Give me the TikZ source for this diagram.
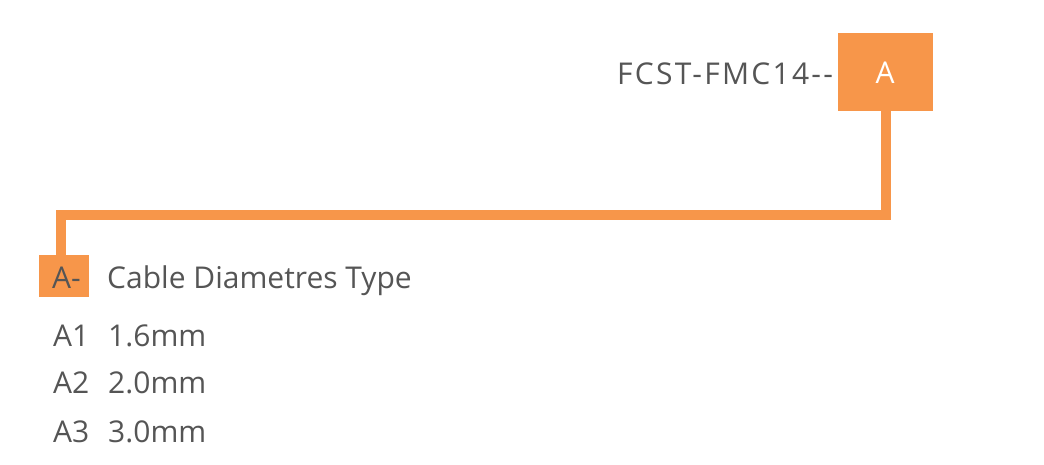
\documentclass[tikz,border=0pt]{standalone}
\usepackage{fontspec}
\setmainfont{Open Sans}
\definecolor{org}{HTML}{F7964A}
\definecolor{txt}{HTML}{555555}
\begin{document}
\begin{tikzpicture}[x=1pt,y=-1pt,
  lbl/.style={text=txt,font=\fontsize{30}{36}\selectfont,inner sep=0pt,anchor=base west},
  obox/.style={fill=org,inner sep=0pt,minimum width=#1,anchor=north west},
  conn/.style={draw=org,line width=10pt,miter limit=10}]
\useasboundingbox (0,0) rectangle (1044,464);
\node[obox=95pt,minimum height=78pt] (top) at (838,33) {};
\node[text=white,font=\fontsize{30}{36}\selectfont,inner sep=0pt] (topA) at (885,73) {A};
\node[lbl,anchor=base west] (code) at (617,84) {\addfontfeature{LetterSpace=7.5}FCST{-}FMC14{-}{-}};
\node[obox=50pt,minimum height=42pt] (small) at (39,255) {};
\node[lbl] (smallA) at (52,288) {A{-}};
\node[lbl] (title) at (107,288) {Cable Diametres Type};
\node[lbl] (a1) at (53,346) {A1};
\node[lbl] (v1) at (108,346) {1.6mm};
\node[lbl] (a2) at (53,393) {A2};
\node[lbl] (v2) at (108,393) {2.0mm};
\node[lbl] (a3) at (53,442) {A3};
\node[lbl] (v3) at (108,442) {3.0mm};
\draw[conn] (top.south) -- ++(0,103.5) -| (small.north -| 61,0);
\end{tikzpicture}
\end{document}
